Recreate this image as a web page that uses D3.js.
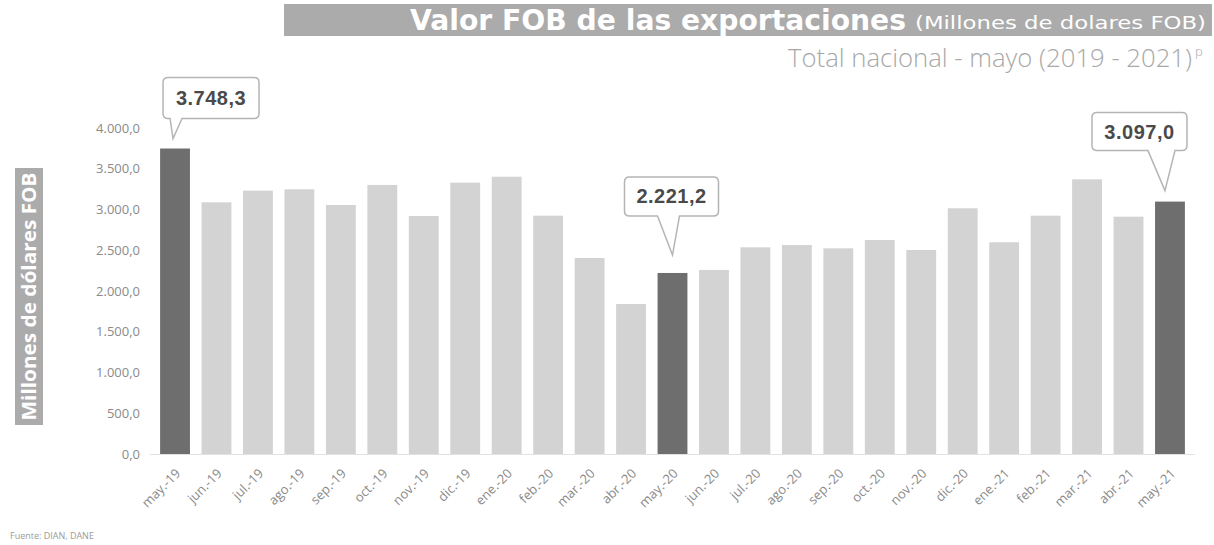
<!DOCTYPE html>
<html lang="es">
<head>
<meta charset="UTF-8">
<title>Valor FOB de las exportaciones</title>
<script src="https://d3js.org/d3.v7.min.js"></script>
<style>
  body { margin: 0; background: #fff; }
  svg { display: block; }
</style>
</head>
<body>
<script>
// months and export values (millones de dolares FOB)
const months = ["may.-19", "jun.-19", "jul.-19", "ago.-19", "sep.-19", "oct.-19", "nov.-19", "dic.-19",
  "ene.-20", "feb.-20", "mar.-20", "abr.-20", "may.-20", "jun.-20", "jul.-20", "ago.-20", "sep.-20",
  "oct.-20", "nov.-20", "dic.-20", "ene.-21", "feb.-21", "mar.-21", "abr.-21", "may.-21"];
const values = [3748.3, 3088, 3231, 3248, 3055, 3301, 2920, 3329,
  3402, 2924, 2405, 1840, 2221.2, 2258, 2536, 2564, 2524,
  2626, 2503, 3015, 2598, 2924, 3370, 2912, 3097.0];
// months that get a callout
const highlighted = ["may.-19", "may.-20", "may.-21"];
const yTicks = [0, 500, 1000, 1500, 2000, 2500, 3000, 3500, 4000];

const data = months.map((m, i) => ({ month: m, value: values[i] }));

const width = 1214, height = 545;
const svg = d3.select("body").append("svg")
  .attr("width", width).attr("height", height);

// format like 3.748,3
const es = d3.formatLocale({ decimal: ",", thousands: ".", grouping: [3], currency: ["", ""] });
const fmt = es.format(",.1f");

const x = d3.scaleBand().domain(months).range([154.3, 1190.7]).paddingInner(0.28).paddingOuter(0.14);
const y = d3.scaleLinear().domain([0, 4000]).range([454, 128]);

// title banner
svg.append("rect").attr("x", 284).attr("y", 4).attr("width", 928).attr("height", 32).attr("fill", "#ababab");
svg.append("text").attr("x", 410).attr("y", 30)
  .attr("fill", "#fff").attr("font-size", 28)
  .attr("textLength", 496).attr("lengthAdjust", "spacingAndGlyphs")
  .style("font-family", "'DejaVu Sans', sans-serif").style("font-weight", "bold")
  .text("Valor FOB de las exportaciones");
svg.append("text").attr("x", 915).attr("y", 29)
  .attr("fill", "#fff").attr("font-size", 18)
  .attr("textLength", 291).attr("lengthAdjust", "spacingAndGlyphs")
  .style("font-family", "'DejaVu Sans', sans-serif")
  .text("(Millones de dolares FOB)");

// subtitle
svg.append("text").attr("x", 788).attr("y", 67)
  .attr("fill", "#a8a8a8").attr("font-size", 25)
  .attr("textLength", 404).attr("lengthAdjust", "spacingAndGlyphs")
  .style("font-family", "'Open Sans', sans-serif").style("font-weight", 300)
  .text("Total nacional - mayo (2019 - 2021)");
svg.append("text").attr("x", 1195).attr("y", 56)
  .attr("fill", "#a8a8a8").attr("font-size", 13)
  .style("font-family", "'Open Sans', sans-serif").style("font-weight", 300)
  .text("p");

// y axis title box
svg.append("rect").attr("x", 15).attr("y", 168).attr("width", 28).attr("height", 257).attr("fill", "#ababab");
svg.append("text").attr("transform", "translate(36,296.5) rotate(-90)")
  .attr("text-anchor", "middle").attr("fill", "#fff").attr("font-size", 19)
  .attr("textLength", 248).attr("lengthAdjust", "spacingAndGlyphs")
  .style("font-family", "'Open Sans', sans-serif").style("font-weight", "bold")
  .text("Millones de dólares FOB");

// y axis
const yAxis = svg.append("g").attr("transform", "translate(140,0)")
  .call(d3.axisLeft(y).tickValues(yTicks).tickFormat(fmt).tickSize(0).tickPadding(0));
yAxis.select(".domain").remove();
yAxis.selectAll("text").attr("fill", "#8a8a8a").attr("font-size", 13)
  .style("font-family", "'Open Sans', sans-serif");

// baseline
svg.append("line").attr("x1", 150).attr("x2", 1195).attr("y1", y(0) + 0.5).attr("y2", y(0) + 0.5)
  .attr("stroke", "#e2e2e2").attr("stroke-width", 1);

// bars
svg.selectAll("rect.bar").data(data).enter().append("rect")
  .attr("class", "bar")
  .attr("x", d => x(d.month))
  .attr("y", d => y(d.value))
  .attr("width", x.bandwidth())
  .attr("height", d => y(0) - y(d.value))
  .attr("fill", d => highlighted.includes(d.month) ? "#6e6e6e" : "#d3d3d3");

// x axis labels
const xAxis = svg.append("g").attr("transform", "translate(0," + (y(0) + 4) + ")")
  .call(d3.axisBottom(x).tickSize(0).tickPadding(0));
xAxis.select(".domain").remove();
xAxis.selectAll("text")
  .attr("fill", "#8a8a8a").attr("font-size", 13)
  .style("font-family", "'Open Sans', sans-serif")
  .attr("text-anchor", "end")
  .attr("transform", "translate(3,13) rotate(-45)")
  .attr("dy", "0.35em").attr("y", 0).attr("x", 0);

// callouts: box offsets relative to the bar centre / bar top
const callouts = [
  { month: "may.-19", bx: -12, bw: 96, by: -71, bh: 41, px: [-5, 7], tip: [-2, -10] },
  { month: "may.-20", bx: -48, bw: 94, by: -96, bh: 39, px: [-15, 7], tip: [0, -18] },
  { month: "may.-21", bx: -78, bw: 95, by: -89, bh: 38, px: [-22, 5], tip: [-5, -11] }
];
callouts.forEach(c => {
  const d = data.find(e => e.month === c.month);
  const cx = x(d.month) + x.bandwidth() / 2;
  const top = y(d.value);
  const x0 = cx + c.bx, x1 = x0 + c.bw, y0 = top + c.by, y1 = y0 + c.bh;
  const r = 5;
  const path = d3.path();
  path.moveTo(x0 + r, y0);
  path.lineTo(x1 - r, y0);
  path.quadraticCurveTo(x1, y0, x1, y0 + r);
  path.lineTo(x1, y1 - r);
  path.quadraticCurveTo(x1, y1, x1 - r, y1);
  path.lineTo(cx + c.px[1], y1);
  path.lineTo(cx + c.tip[0], top + c.tip[1]);
  path.lineTo(cx + c.px[0], y1);
  path.lineTo(x0 + r, y1);
  path.quadraticCurveTo(x0, y1, x0, y1 - r);
  path.lineTo(x0, y0 + r);
  path.quadraticCurveTo(x0, y0, x0 + r, y0);
  path.closePath();
  svg.append("path").attr("d", path.toString())
    .attr("fill", "#fff").attr("stroke", "#b5b5b5").attr("stroke-width", 1.5);
  svg.append("text").attr("x", (x0 + x1) / 2).attr("y", (y0 + y1) / 2 + 7)
    .attr("text-anchor", "middle").attr("fill", "#4a4a4a").attr("font-size", 20)
    .style("font-family", "'Liberation Sans', sans-serif").style("font-weight", "bold")
    .style("letter-spacing", "0.5px")
    .text(fmt(d.value));
});

// source
svg.append("text").attr("x", 10).attr("y", 539).attr("fill", "#9a9a9a").attr("font-size", 9)
  .style("font-family", "'Open Sans', sans-serif").text("Fuente: DIAN, DANE");
</script>
</body>
</html>
